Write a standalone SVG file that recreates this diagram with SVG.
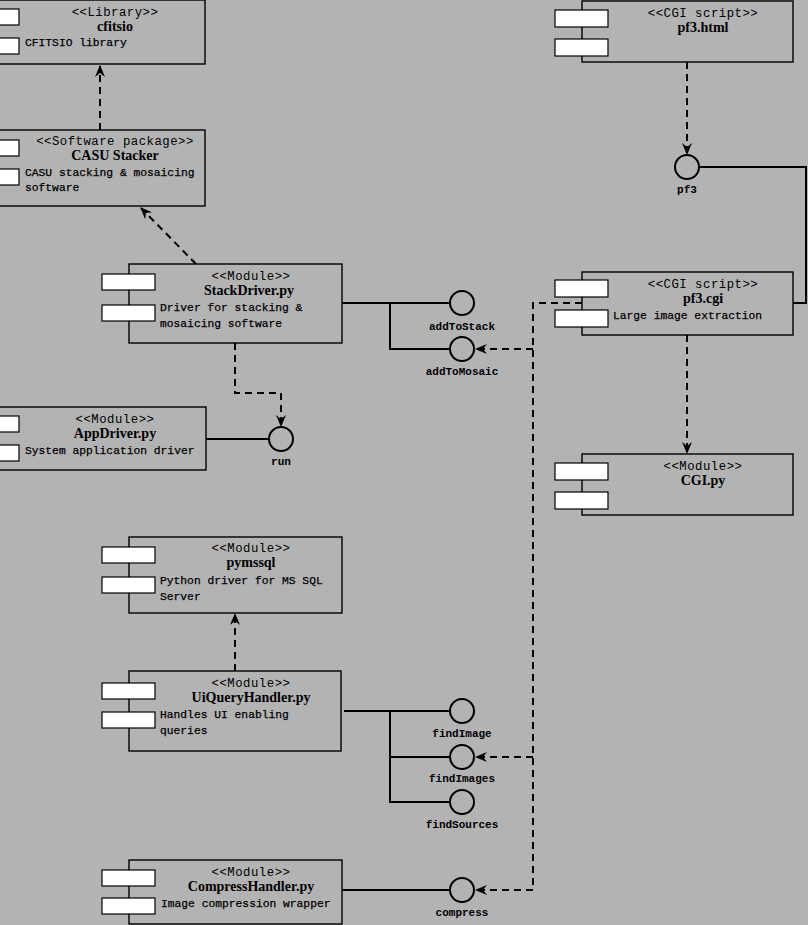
<svg xmlns="http://www.w3.org/2000/svg" width="808" height="925" viewBox="0 0 808 925">
<defs>
<marker id="arr" viewBox="0 0 12 10" refX="11" refY="5" markerWidth="12" markerHeight="10" markerUnits="userSpaceOnUse" orient="auto">
<path d="M0,0 L12,5 L0,10 L4,5 z" fill="#000"/>
</marker>
<style>
.box{fill:#b3b3b3;stroke:#000;stroke-width:1.4}
.port{fill:#fff;stroke:#000;stroke-width:1.2}
.st{font-family:"Liberation Mono",monospace;font-size:12.3px;letter-spacing:0.5px;text-anchor:middle;fill:#000}
.nm{font-family:"Liberation Serif",serif;font-size:14px;font-weight:bold;text-anchor:middle;fill:#000}
.ds{font-family:"Liberation Mono",monospace;font-size:11.3px;fill:#000;stroke:#000;stroke-width:0.25}
.lb{font-family:"Liberation Mono",monospace;font-size:11px;font-weight:bold;text-anchor:middle;fill:#000}
.ln{fill:none;stroke:#000;stroke-width:2}
.dl{fill:none;stroke:#000;stroke-width:2;stroke-dasharray:7,5}
.ci{fill:#b3b3b3;stroke:#000;stroke-width:2}
</style>
</defs>
<rect x="0" y="0" width="808" height="925" fill="#b3b3b3"/>

<g id="connectors">
<path class="dl" d="M100,130 V66" marker-end="url(#arr)"/>
<path class="dl" d="M196,264 L141,208" marker-end="url(#arr)"/>
<path class="dl" d="M235,343 V393 H281 V426" marker-end="url(#arr)"/>
<path class="ln" d="M342,303 H450 M390,303 V349 H450"/>
<path class="dl" d="M582,303 H533 V890 H476" marker-end="url(#arr)"/>
<path class="dl" d="M533,349 H476" marker-end="url(#arr)"/>
<path class="dl" d="M533,757 H476" marker-end="url(#arr)"/>
<path class="dl" d="M687,62 V154" marker-end="url(#arr)"/>
<path class="ln" d="M699,167 H806 V303 H793"/>
<path class="dl" d="M687,335 V453" marker-end="url(#arr)"/>
<path class="ln" d="M344,711 H450 M390,711 V802 H450 M390,757 H450"/>
<path class="dl" d="M235,671 V614" marker-end="url(#arr)"/>
<path class="ln" d="M342,890 H450"/>
<path class="ln" d="M206,439 H269"/>
</g>

<g id="iface-addToStack"><circle class="ci" cx="462" cy="303" r="12"/><text class="lb" x="462" y="330">addToStack</text></g>
<g id="iface-addToMosaic"><circle class="ci" cx="462" cy="349" r="12"/><text class="lb" x="462" y="375">addToMosaic</text></g>
<g id="iface-run"><circle class="ci" cx="281" cy="439" r="12"/><text class="lb" x="281" y="465">run</text></g>
<g id="iface-pf3"><circle class="ci" cx="687" cy="167" r="12"/><text class="lb" x="687" y="193">pf3</text></g>
<g id="iface-findImage"><circle class="ci" cx="462" cy="711" r="12"/><text class="lb" x="462" y="737">findImage</text></g>
<g id="iface-findImages"><circle class="ci" cx="462" cy="757" r="12"/><text class="lb" x="462" y="782">findImages</text></g>
<g id="iface-findSources"><circle class="ci" cx="462" cy="802" r="12"/><text class="lb" x="462" y="828">findSources</text></g>
<g id="iface-compress"><circle class="ci" cx="462" cy="890" r="12"/><text class="lb" x="462" y="916">compress</text></g>

<g id="cfitsio">
<rect class="box" x="-6" y="0" width="211" height="64"/>
<rect class="port" x="-34" y="9" width="53" height="16"/>
<rect class="port" x="-34" y="38" width="53" height="16"/>
<text class="st" x="115" y="16">&lt;&lt;Library&gt;&gt;</text>
<text class="nm" x="115" y="31">cfitsio</text>
<text class="ds" x="25" y="46">CFITSIO library</text>
</g>

<g id="casu">
<rect class="box" x="-6" y="130" width="211" height="76"/>
<rect class="port" x="-34" y="140" width="53" height="16"/>
<rect class="port" x="-34" y="169" width="53" height="16"/>
<text class="st" x="115" y="145">&lt;&lt;Software package&gt;&gt;</text>
<text class="nm" x="115" y="160">CASU Stacker</text>
<text class="ds" x="25" y="176">CASU stacking &amp; mosaicing</text>
<text class="ds" x="25" y="191">software</text>
</g>

<g id="stackdriver">
<rect class="box" x="129" y="264" width="213" height="79"/>
<rect class="port" x="102" y="274" width="53" height="16"/>
<rect class="port" x="102" y="305" width="53" height="16"/>
<text class="st" x="251" y="280">&lt;&lt;Module&gt;&gt;</text>
<text class="nm" x="249" y="295">StackDriver.py</text>
<text class="ds" x="160" y="311">Driver for stacking &amp;</text>
<text class="ds" x="160" y="327">mosaicing software</text>
</g>

<g id="appdriver">
<rect class="box" x="-6" y="407" width="212" height="63"/>
<rect class="port" x="-34" y="416" width="53" height="16"/>
<rect class="port" x="-34" y="445" width="53" height="16"/>
<text class="st" x="115" y="423">&lt;&lt;Module&gt;&gt;</text>
<text class="nm" x="115" y="438">AppDriver.py</text>
<text class="ds" x="25" y="454">System application driver</text>
</g>

<g id="pymssql">
<rect class="box" x="129" y="537" width="213" height="76"/>
<rect class="port" x="102" y="547" width="53" height="16"/>
<rect class="port" x="102" y="577" width="53" height="16"/>
<text class="st" x="251" y="552">&lt;&lt;Module&gt;&gt;</text>
<text class="nm" x="251" y="567">pymssql</text>
<text class="ds" x="160" y="584">Python driver for MS SQL</text>
<text class="ds" x="160" y="600">Server</text>
</g>

<g id="uiquery">
<rect class="box" x="129" y="671" width="212" height="80"/>
<rect class="port" x="102" y="683" width="53" height="16"/>
<rect class="port" x="102" y="712" width="53" height="16"/>
<text class="st" x="251" y="687">&lt;&lt;Module&gt;&gt;</text>
<text class="nm" x="251" y="702">UiQueryHandler.py</text>
<text class="ds" x="160" y="718">Handles UI enabling</text>
<text class="ds" x="160" y="734">queries</text>
</g>

<g id="compress">
<rect class="box" x="129" y="860" width="213" height="64"/>
<rect class="port" x="102" y="870" width="53" height="16"/>
<rect class="port" x="102" y="898" width="53" height="16"/>
<text class="st" x="251" y="876">&lt;&lt;Module&gt;&gt;</text>
<text class="nm" x="251" y="891">CompressHandler.py</text>
<text class="ds" x="161" y="907">Image compression wrapper</text>
</g>

<g id="pf3html">
<rect class="box" x="582" y="1" width="211" height="61"/>
<rect class="port" x="555" y="10" width="53" height="17"/>
<rect class="port" x="555" y="39" width="53" height="17"/>
<text class="st" x="703" y="17">&lt;&lt;CGI script&gt;&gt;</text>
<text class="nm" x="703" y="32">pf3.html</text>
</g>

<g id="pf3cgi">
<rect class="box" x="582" y="272" width="211" height="63"/>
<rect class="port" x="555" y="280" width="53" height="17"/>
<rect class="port" x="555" y="310" width="53" height="17"/>
<text class="st" x="703" y="288">&lt;&lt;CGI script&gt;&gt;</text>
<text class="nm" x="703" y="303">pf3.cgi</text>
<text class="ds" x="613" y="319">Large image extraction</text>
</g>

<g id="cgipy">
<rect class="box" x="582" y="454" width="211" height="61"/>
<rect class="port" x="555" y="463" width="53" height="17"/>
<rect class="port" x="555" y="492" width="53" height="17"/>
<text class="st" x="703" y="470">&lt;&lt;Module&gt;&gt;</text>
<text class="nm" x="703" y="485">CGI.py</text>
</g>
</svg>
